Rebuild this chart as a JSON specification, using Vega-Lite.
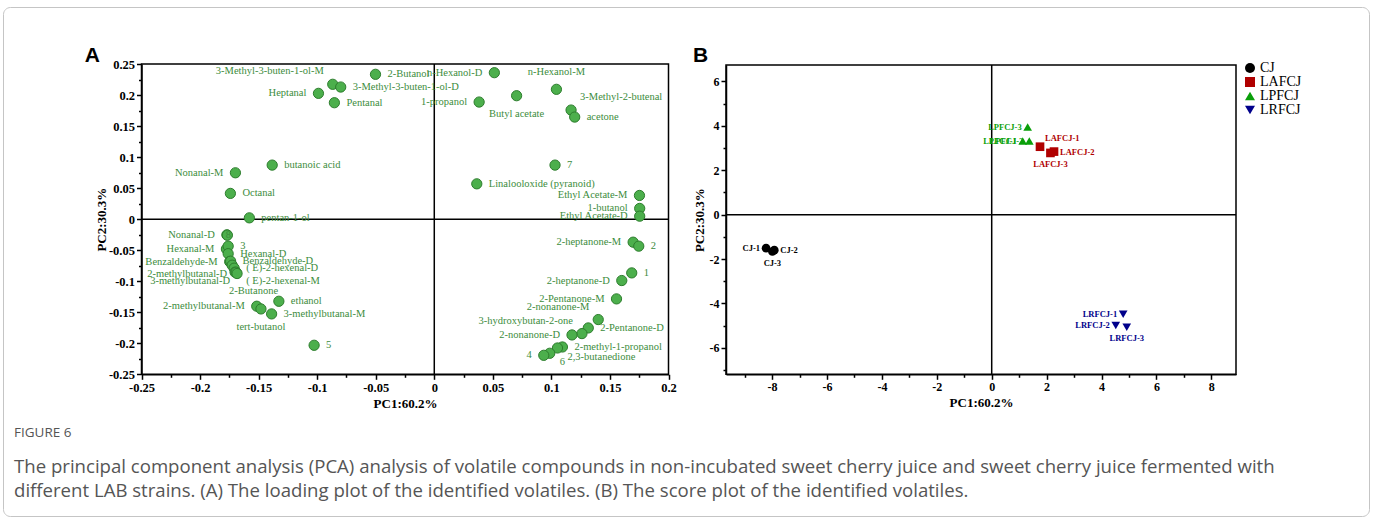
{
  "$schema": "https://vega.github.io/schema/vega-lite/v6.json",
  "background": "white",
  "width": 1366,
  "height": 509,
  "autosize": {"type": "none"},
  "padding": {"left": 3, "top": 7, "right": 4, "bottom": 7},
  "view": {"stroke": "#c5c5c5", "strokeWidth": 1, "cornerRadius": 7},
  "title": {
    "text": "FIGURE 6",
    "subtitle": [
      "The principal component analysis (PCA) analysis of volatile compounds in non-incubated sweet cherry juice and sweet cherry juice fermented with",
      "different LAB strains. (A) The loading plot of the identified volatiles. (B) The score plot of the identified volatiles."
    ],
    "orient": "bottom", "anchor": "start", "frame": "group",
    "offset": -90, "dx": 11, "limit": 1400,
    "font": "Open Sans", "fontSize": 13.5, "fontWeight": "normal", "color": "#555555",
    "subtitleFont": "Open Sans", "subtitleFontSize": 18.6, "subtitleColor": "#555555",
    "subtitleLineHeight": 24, "subtitlePadding": 18
  },
  "config": {
    "font": "Liberation Serif",
    "axis": {
      "grid": false,
      "domainColor": "black", "domainWidth": 1.5,
      "tickColor": "black", "tickWidth": 1.5, "tickSize": 5,
      "labelFont": "Liberation Serif", "labelFontWeight": "bold", "labelFontSize": 12.5, "labelColor": "black",
      "labelPadding": 2, "labelFlush": false, "labelOverlap": false,
      "titleFont": "Liberation Serif", "titleFontWeight": "bold", "titleFontSize": 13, "titleColor": "black",
      "titlePadding": 4
    },
    "style": {
      "lblA": {"font": "Liberation Serif", "fontSize": 10.5, "baseline": "middle"},
      "lblB": {"font": "Liberation Serif", "fontSize": 8.5, "fontWeight": "bold", "baseline": "middle"},
      "panelTag": {"font": "Liberation Sans", "fontSize": 21, "fontWeight": "bold", "baseline": "alphabetic", "align": "left"}
    }
  },
  "resolve": {
    "scale": {"x": "independent", "y": "independent"},
    "axis": {"x": "independent", "y": "independent"}
  },
  "layer": [
    {
      "resolve": {"axis": {"x": "independent", "y": "independent"}},
      "data": {"values": [
        {"n": "3-Methyl-3-buten-1-ol-M", "x": -0.0867, "y": 0.2173, "s": "TL"},
        {"n": "3-Methyl-3-buten-1-ol-D", "x": -0.0799, "y": 0.2129, "s": "R"},
        {"n": "2-Butanol", "x": -0.0502, "y": 0.2334, "s": "R"},
        {"n": "Heptanal", "x": -0.0989, "y": 0.2027, "s": "L"},
        {"n": "Pentanal", "x": -0.0853, "y": 0.1876, "s": "R"},
        {"n": "n-Hexanol-D", "x": 0.0513, "y": 0.236, "s": "L"},
        {"n": "n-Hexanol-M", "x": 0.1043, "y": 0.2092, "s": "T"},
        {"n": "Butyl acetate", "x": 0.0703, "y": 0.1989, "s": "B"},
        {"n": "1-propanol", "x": 0.0383, "y": 0.1887, "s": "L"},
        {"n": "3-Methyl-2-butenal", "x": 0.1168, "y": 0.1758, "s": "TR"},
        {"n": "acetone", "x": 0.1199, "y": 0.1645, "s": "R"},
        {"n": "7", "x": 0.1031, "y": 0.0871, "s": "R"},
        {"n": "Linalooloxide (pyranoid)", "x": 0.0363, "y": 0.0569, "s": "R"},
        {"n": "Ethyl Acetate-M", "x": 0.1752, "y": 0.0382, "s": "L"},
        {"n": "1-butanol", "x": 0.1754, "y": 0.0173, "s": "L"},
        {"n": "Ethyl Acetate-D", "x": 0.1754, "y": 0.0048, "s": "L"},
        {"n": "butanoic acid", "x": -0.1384, "y": 0.0871, "s": "R"},
        {"n": "Nonanal-M", "x": -0.1698, "y": 0.0747, "s": "L"},
        {"n": "Octanal", "x": -0.1741, "y": 0.0415, "s": "R"},
        {"n": "pentan-1-ol", "x": -0.1579, "y": 0.0021, "s": "R"},
        {"n": "Nonanal-D", "x": -0.1771, "y": -0.0253, "s": "L"},
        {"n": "8", "x": -0.1767, "y": -0.0258, "s": "C"},
        {"n": "Hexanal-M", "x": -0.1775, "y": -0.0481, "s": "L"},
        {"n": "3", "x": -0.176, "y": -0.0435, "s": "R"},
        {"n": "Hexanal-D", "x": -0.176, "y": -0.0556, "s": "R"},
        {"n": "Benzaldehyde-M", "x": -0.1747, "y": -0.0685, "s": "L"},
        {"n": "Benzaldehyde-D", "x": -0.1739, "y": -0.0677, "s": "R"},
        {"n": "2-methylbutanal-D", "x": -0.1726, "y": -0.0742, "s": "BL"},
        {"n": "( E)-2-hexenal-D", "x": -0.1709, "y": -0.079, "s": "R"},
        {"n": "3-methylbutanal-D", "x": -0.1701, "y": -0.0855, "s": "BL"},
        {"n": "( E)-2-hexenal-M", "x": -0.1692, "y": -0.0855, "s": "BR"},
        {"n": "2-Butanone", "x": -0.1684, "y": -0.0876, "s": "B2"},
        {"n": "2-methylbutanal-M", "x": -0.1516, "y": -0.1403, "s": "L"},
        {"n": "tert-butanol", "x": -0.148, "y": -0.1447, "s": "B"},
        {"n": "ethanol", "x": -0.1327, "y": -0.1323, "s": "R"},
        {"n": "3-methylbutanal-M", "x": -0.1389, "y": -0.1527, "s": "R"},
        {"n": "5", "x": -0.1026, "y": -0.2032, "s": "R"},
        {"n": "2-heptanone-M", "x": 0.1698, "y": -0.0371, "s": "L"},
        {"n": "2", "x": 0.1746, "y": -0.0435, "s": "R"},
        {"n": "1", "x": 0.1686, "y": -0.0866, "s": "R"},
        {"n": "2-heptanone-D", "x": 0.1601, "y": -0.0989, "s": "L"},
        {"n": "2-Pentanone-M", "x": 0.1556, "y": -0.1285, "s": "L"},
        {"n": "2-nonanone-M", "x": 0.14, "y": -0.1618, "s": "TL"},
        {"n": "2-Pentanone-D", "x": 0.1315, "y": -0.1753, "s": "R"},
        {"n": "3-hydroxybutan-2-one", "x": 0.1261, "y": -0.1844, "s": "TL"},
        {"n": "2-nonanone-D", "x": 0.1176, "y": -0.1866, "s": "L"},
        {"n": "2-methyl-1-propanol", "x": 0.1094, "y": -0.206, "s": "R"},
        {"n": "2,3-butanedione", "x": 0.1052, "y": -0.2076, "s": "BR"},
        {"n": "6", "x": 0.0986, "y": -0.2161, "s": "BR"},
        {"n": "4", "x": 0.0935, "y": -0.2194, "s": "L"}
      ]},
      "layer": [
        {
          "data": {"values": [{"z": 0}]},
          "mark": {"type": "rect", "filled": false, "stroke": "black", "strokeWidth": 1.5},
          "encoding": {
            "x": {"datum": -0.25, "type": "quantitative",
              "scale": {"domain": [-0.25, 0.2], "range": [138.5, 665.5], "nice": false, "zero": false}, "axis": null},
            "x2": {"datum": 0.2},
            "y": {"datum": -0.25, "type": "quantitative",
              "scale": {"domain": [-0.25, 0.25], "range": [367.3, 57], "nice": false, "zero": false}, "axis": null},
            "y2": {"datum": 0.25}
          }
        },
        {
          "data": {"values": [{"z": 0}]},
          "mark": {"type": "rule", "color": "black", "strokeWidth": 1.5},
          "encoding": {
            "x": {"field": "z", "type": "quantitative",
              "axis": {"orient": "bottom", "offset": -141.7, "values": [-0.225, -0.175, -0.125, -0.075, -0.025, 0.025, 0.075, 0.125, 0.175], "labels": false, "domain": false, "tickSize": 3, "title": null}},
            "y": {"datum": -0.25, "type": "quantitative", "axis": null},
            "y2": {"datum": 0.25}
          }
        },
        {
          "data": {"values": [{"z": 0}]},
          "mark": {"type": "rule", "color": "black", "strokeWidth": 1.5},
          "encoding": {
            "y": {"field": "z", "type": "quantitative",
              "axis": {"orient": "left", "offset": -138.5, "values": [-0.225, -0.175, -0.125, -0.075, -0.025, 0.025, 0.075, 0.125, 0.175, 0.225], "labels": false, "domain": false, "tickSize": 3, "title": null}},
            "x": {"datum": -0.25, "type": "quantitative", "axis": null},
            "x2": {"datum": 0.2}
          }
        },
        {
          "mark": {"type": "circle", "size": 105, "fill": "#4caf4c", "stroke": "#2d7d2d", "strokeWidth": 1, "opacity": 1},
          "encoding": {
            "x": {"field": "x", "type": "quantitative",
              "axis": {"orient": "bottom", "offset": -141.7, "values": [-0.25, -0.2, -0.15, -0.1, -0.05, 0, 0.05, 0.1, 0.15, 0.2], "labelExpr": "'' + datum.value", "title": "PC1:60.2%"}},
            "y": {"field": "y", "type": "quantitative",
              "axis": {"orient": "left", "offset": -138.5, "values": [-0.25, -0.2, -0.15, -0.1, -0.05, 0, 0.05, 0.1, 0.15, 0.2, 0.25], "labelExpr": "'' + datum.value", "title": "PC2:30.3%", "titlePadding": 0}}
          }
        },
        {
          "transform": [{"filter": "datum.s === 'R'"}],
          "mark": {"type": "text", "style": "lblA", "color": "#3c8c3c", "align": "left", "dx": 12},
          "encoding": {"x": {"field": "x", "type": "quantitative", "axis": null}, "y": {"field": "y", "type": "quantitative", "axis": null}, "text": {"field": "n"}}
        },
        {
          "transform": [{"filter": "datum.s === 'L'"}],
          "mark": {"type": "text", "style": "lblA", "color": "#3c8c3c", "align": "right", "dx": -12},
          "encoding": {"x": {"field": "x", "type": "quantitative", "axis": null}, "y": {"field": "y", "type": "quantitative", "axis": null}, "text": {"field": "n"}}
        },
        {
          "transform": [{"filter": "datum.s === 'T'"}],
          "mark": {"type": "text", "style": "lblA", "color": "#3c8c3c", "align": "center", "dy": -17},
          "encoding": {"x": {"field": "x", "type": "quantitative", "axis": null}, "y": {"field": "y", "type": "quantitative", "axis": null}, "text": {"field": "n"}}
        },
        {
          "transform": [{"filter": "datum.s === 'B'"}],
          "mark": {"type": "text", "style": "lblA", "color": "#3c8c3c", "align": "center", "dy": 18},
          "encoding": {"x": {"field": "x", "type": "quantitative", "axis": null}, "y": {"field": "y", "type": "quantitative", "axis": null}, "text": {"field": "n"}}
        },
        {
          "transform": [{"filter": "datum.s === 'TL'"}],
          "mark": {"type": "text", "style": "lblA", "color": "#3c8c3c", "align": "right", "dx": -9, "dy": -13},
          "encoding": {"x": {"field": "x", "type": "quantitative", "axis": null}, "y": {"field": "y", "type": "quantitative", "axis": null}, "text": {"field": "n"}}
        },
        {
          "transform": [{"filter": "datum.s === 'TR'"}],
          "mark": {"type": "text", "style": "lblA", "color": "#3c8c3c", "align": "left", "dx": 9, "dy": -13},
          "encoding": {"x": {"field": "x", "type": "quantitative", "axis": null}, "y": {"field": "y", "type": "quantitative", "axis": null}, "text": {"field": "n"}}
        },
        {
          "transform": [{"filter": "datum.s === 'BL'"}],
          "mark": {"type": "text", "style": "lblA", "color": "#3c8c3c", "align": "right", "dx": -5, "dy": 9},
          "encoding": {"x": {"field": "x", "type": "quantitative", "axis": null}, "y": {"field": "y", "type": "quantitative", "axis": null}, "text": {"field": "n"}}
        },
        {
          "transform": [{"filter": "datum.s === 'BR'"}],
          "mark": {"type": "text", "style": "lblA", "color": "#3c8c3c", "align": "left", "dx": 10, "dy": 9},
          "encoding": {"x": {"field": "x", "type": "quantitative", "axis": null}, "y": {"field": "y", "type": "quantitative", "axis": null}, "text": {"field": "n"}}
        },
        {
          "transform": [{"filter": "datum.s === 'B2'"}],
          "mark": {"type": "text", "style": "lblA", "color": "#3c8c3c", "align": "left", "dx": -8, "dy": 17},
          "encoding": {"x": {"field": "x", "type": "quantitative", "axis": null}, "y": {"field": "y", "type": "quantitative", "axis": null}, "text": {"field": "n"}}
        },
        {
          "transform": [{"filter": "datum.s === 'C'"}],
          "mark": {"type": "text", "style": "lblA", "color": "#3c8c3c", "align": "center", "dx": 1},
          "encoding": {"x": {"field": "x", "type": "quantitative", "axis": null}, "y": {"field": "y", "type": "quantitative", "axis": null}, "text": {"field": "n"}}
        },
        {
          "data": {"values": [{"tag": "A"}]},
          "mark": {"type": "text", "style": "panelTag", "color": "black"},
          "encoding": {
            "x": {"datum": -0.2985, "type": "quantitative", "axis": null},
            "y": {"datum": 0.2532, "type": "quantitative", "axis": null},
            "text": {"field": "tag"}
          }
        }
      ]
    },
    {
      "resolve": {"axis": {"x": "independent", "y": "independent"}},
      "data": {"values": [
        {"n": "CJ-1", "g": "CJ", "x": -8.22, "y": -1.51, "s": "L"},
        {"n": "CJ-2", "g": "CJ", "x": -7.92, "y": -1.6, "s": "R"},
        {"n": "CJ-3", "g": "CJ", "x": -7.99, "y": -1.66, "s": "B"},
        {"n": "LAFCJ-1", "g": "LAFCJ", "x": 1.76, "y": 3.06, "s": "TR"},
        {"n": "LAFCJ-2", "g": "LAFCJ", "x": 2.27, "y": 2.84, "s": "R"},
        {"n": "LAFCJ-3", "g": "LAFCJ", "x": 2.14, "y": 2.78, "s": "B"},
        {"n": "LPFCJ-1", "g": "LPFCJ", "x": 1.13, "y": 3.32, "s": "L"},
        {"n": "LPFCJ-2", "g": "LPFCJ", "x": 1.37, "y": 3.32, "s": "L"},
        {"n": "LPFCJ-3", "g": "LPFCJ", "x": 1.31, "y": 3.95, "s": "L"},
        {"n": "LRFCJ-1", "g": "LRFCJ", "x": 4.79, "y": -4.49, "s": "L"},
        {"n": "LRFCJ-2", "g": "LRFCJ", "x": 4.52, "y": -4.99, "s": "L"},
        {"n": "LRFCJ-3", "g": "LRFCJ", "x": 4.92, "y": -5.07, "s": "B"}
      ]},
      "layer": [
        {
          "data": {"values": [{"z": 0}]},
          "mark": {"type": "rect", "filled": false, "stroke": "black", "strokeWidth": 1.5},
          "encoding": {
            "x": {"datum": -9.68, "type": "quantitative",
              "scale": {"domain": [-9.68, 8.9], "range": [723, 1233], "nice": false, "zero": false}, "axis": null},
            "x2": {"datum": 8.9},
            "y": {"datum": -7.19, "type": "quantitative",
              "scale": {"domain": [-7.19, 6.74], "range": [367.3, 58], "nice": false, "zero": false}, "axis": null},
            "y2": {"datum": 6.74}
          }
        },
        {
          "data": {"values": [{"z": 0}]},
          "mark": {"type": "rule", "color": "black", "strokeWidth": 1.5},
          "encoding": {
            "x": {"field": "z", "type": "quantitative",
              "axis": {"orient": "bottom", "offset": -141.7, "values": [-9, -7, -5, -3, -1, 1, 3, 5, 7], "labels": false, "domain": false, "tickSize": 3, "title": null}},
            "y": {"datum": -7.19, "type": "quantitative", "axis": null},
            "y2": {"datum": 6.74}
          }
        },
        {
          "data": {"values": [{"z": 0}]},
          "mark": {"type": "rule", "color": "black", "strokeWidth": 1.5},
          "encoding": {
            "y": {"field": "z", "type": "quantitative",
              "axis": {"orient": "left", "offset": -723, "values": [-7, -5, -3, -1, 1, 3, 5], "labels": false, "domain": false, "tickSize": 3, "title": null}},
            "x": {"datum": -9.68, "type": "quantitative", "axis": null},
            "x2": {"datum": 8.9}
          }
        },
        {
          "mark": {"type": "point", "filled": true, "size": 75, "opacity": 1},
          "encoding": {
            "x": {"field": "x", "type": "quantitative",
              "axis": {"orient": "bottom", "offset": -141.7, "values": [-8, -6, -4, -2, 0, 2, 4, 6, 8], "labelExpr": "'' + datum.value", "labelFontSize": 12, "title": "PC1:60.2%"}},
            "y": {"field": "y", "type": "quantitative",
              "axis": {"orient": "left", "offset": -723, "values": [-6, -4, -2, 0, 2, 4, 6], "labelExpr": "'' + datum.value", "labelFontSize": 12, "title": "PC2:30.3%", "titlePadding": 3}},
            "color": {"field": "g", "type": "nominal",
              "scale": {"domain": ["CJ", "LAFCJ", "LPFCJ", "LRFCJ"], "range": ["#000000", "#b00000", "#0a9f0a", "#00008b"]},
              "legend": {"title": null, "orient": "none", "legendX": 1240, "legendY": 54, "labelFont": "Liberation Serif", "labelFontSize": 14, "labelColor": "black", "symbolSize": 100, "rowPadding": 0, "labelOffset": 3}},
            "shape": {"field": "g", "type": "nominal",
              "scale": {"domain": ["CJ", "LAFCJ", "LPFCJ", "LRFCJ"], "range": ["circle", "square", "triangle-up", "triangle-down"]},
              "legend": {"title": null, "orient": "none", "legendX": 1240, "legendY": 54, "labelFont": "Liberation Serif", "labelFontSize": 14, "labelColor": "black", "symbolSize": 100, "rowPadding": 0, "labelOffset": 3}}
          }
        },
        {
          "transform": [{"filter": "datum.s === 'L'"}],
          "mark": {"type": "text", "style": "lblB", "align": "right", "dx": -6},
          "encoding": {"x": {"field": "x", "type": "quantitative", "axis": null}, "y": {"field": "y", "type": "quantitative", "axis": null}, "text": {"field": "n"}, "color": {"field": "g", "type": "nominal", "legend": null}}
        },
        {
          "transform": [{"filter": "datum.s === 'R'"}],
          "mark": {"type": "text", "style": "lblB", "align": "left", "dx": 6},
          "encoding": {"x": {"field": "x", "type": "quantitative", "axis": null}, "y": {"field": "y", "type": "quantitative", "axis": null}, "text": {"field": "n"}, "color": {"field": "g", "type": "nominal", "legend": null}}
        },
        {
          "transform": [{"filter": "datum.s === 'B'"}],
          "mark": {"type": "text", "style": "lblB", "align": "center", "dy": 11},
          "encoding": {"x": {"field": "x", "type": "quantitative", "axis": null}, "y": {"field": "y", "type": "quantitative", "axis": null}, "text": {"field": "n"}, "color": {"field": "g", "type": "nominal", "legend": null}}
        },
        {
          "transform": [{"filter": "datum.s === 'TR'"}],
          "mark": {"type": "text", "style": "lblB", "align": "left", "dx": 5, "dy": -9},
          "encoding": {"x": {"field": "x", "type": "quantitative", "axis": null}, "y": {"field": "y", "type": "quantitative", "axis": null}, "text": {"field": "n"}, "color": {"field": "g", "type": "nominal", "legend": null}}
        },
        {
          "data": {"values": [{"tag": "B"}]},
          "mark": {"type": "text", "style": "panelTag", "color": "black"},
          "encoding": {
            "x": {"datum": -10.88, "type": "quantitative", "axis": null},
            "y": {"datum": 6.88, "type": "quantitative", "axis": null},
            "text": {"field": "tag"}
          }
        }
      ]
    }
  ]
}
